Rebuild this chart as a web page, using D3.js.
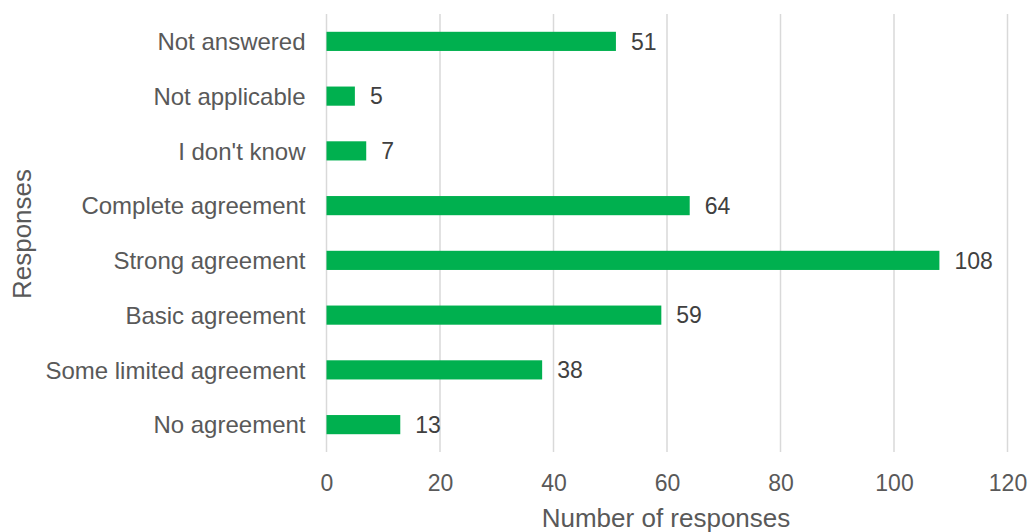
<!DOCTYPE html>
<html>
<head>
<meta charset="utf-8">
<script src="https://cdn.jsdelivr.net/npm/d3@7"></script>
<style>
  body { margin: 0; background: #fff; }
  text { font-family: "Liberation Sans", Arial, sans-serif; }
</style>
</head>
<body>
<script>
// Width and height
var w = 1031;
var h = 532;

var categories = ["Not answered", "Not applicable", "I don't know", "Complete agreement",
                  "Strong agreement", "Basic agreement", "Some limited agreement", "No agreement"];
var values = [51, 5, 7, 64, 108, 59, 38, 13];
var xTicks = [0, 20, 40, 60, 80, 100, 120];

var plotTop = 14, plotBottom = 452, plotLeft = 326.5, plotRight = 1007.5;

var svg = d3.select("body")
            .append("svg")
            .attr("width", w)
            .attr("height", h);

var x = d3.scaleLinear()
          .domain([0, 120])
          .range([plotLeft, plotRight]);

var y = d3.scaleBand()
          .domain(categories)
          .range([plotTop, plotBottom])
          .paddingInner(0.65)
          .paddingOuter(0.325);

// gridlines
svg.selectAll("line.grid")
   .data(xTicks)
   .enter()
   .append("line")
   .attr("class", "grid")
   .attr("x1", function(d) { return x(d); })
   .attr("x2", function(d) { return x(d); })
   .attr("y1", plotTop)
   .attr("y2", plotBottom)
   .attr("stroke", "#d9d9d9")
   .attr("stroke-width", 1.5);

// bars
svg.selectAll("rect")
   .data(values)
   .enter()
   .append("rect")
   .attr("x", x(0))
   .attr("y", function(d, i) { return y(categories[i]); })
   .attr("width", function(d) { return x(d) - x(0); })
   .attr("height", y.bandwidth())
   .attr("fill", "#00b04f");

// value labels
svg.selectAll("text.val")
   .data(values)
   .enter()
   .append("text")
   .attr("class", "val")
   .text(function(d) { return d; })
   .attr("x", function(d) { return x(d) + 15; })
   .attr("y", function(d, i) { return y(categories[i]) + y.bandwidth() / 2; })
   .attr("dy", "0.36em")
   .attr("font-size", "23px")
   .attr("fill", "#404040");

// category labels
var yAxis = svg.append("g")
   .attr("transform", "translate(" + (plotLeft - 21) + ",0)")
   .call(d3.axisLeft(y).tickSize(0).tickPadding(0));
yAxis.select(".domain").remove();
yAxis.selectAll("text")
   .attr("font-size", "24px")
   .attr("dy", "0.36em")
   .attr("fill", "#595959")
   .style("font-family", "'Liberation Sans', Arial, sans-serif");

// x axis
var xAxis = svg.append("g")
   .attr("transform", "translate(0," + 491 + ")")
   .call(d3.axisBottom(x).tickValues(xTicks).tickSize(0).tickPadding(0));
xAxis.select(".domain").remove();
xAxis.selectAll("text")
   .attr("dy", "0")
   .attr("font-size", "23px")
   .attr("fill", "#595959")
   .style("font-family", "'Liberation Sans', Arial, sans-serif");

// axis titles
svg.append("text")
   .text("Number of responses")
   .attr("x", 666)
   .attr("y", 527)
   .attr("text-anchor", "middle")
   .attr("font-size", "26px")
   .attr("fill", "#595959");

svg.append("text")
   .text("Responses")
   .attr("transform", "translate(31,234) rotate(-90)")
   .attr("text-anchor", "middle")
   .attr("font-size", "26px")
   .attr("fill", "#595959");
</script>
</body>
</html>
